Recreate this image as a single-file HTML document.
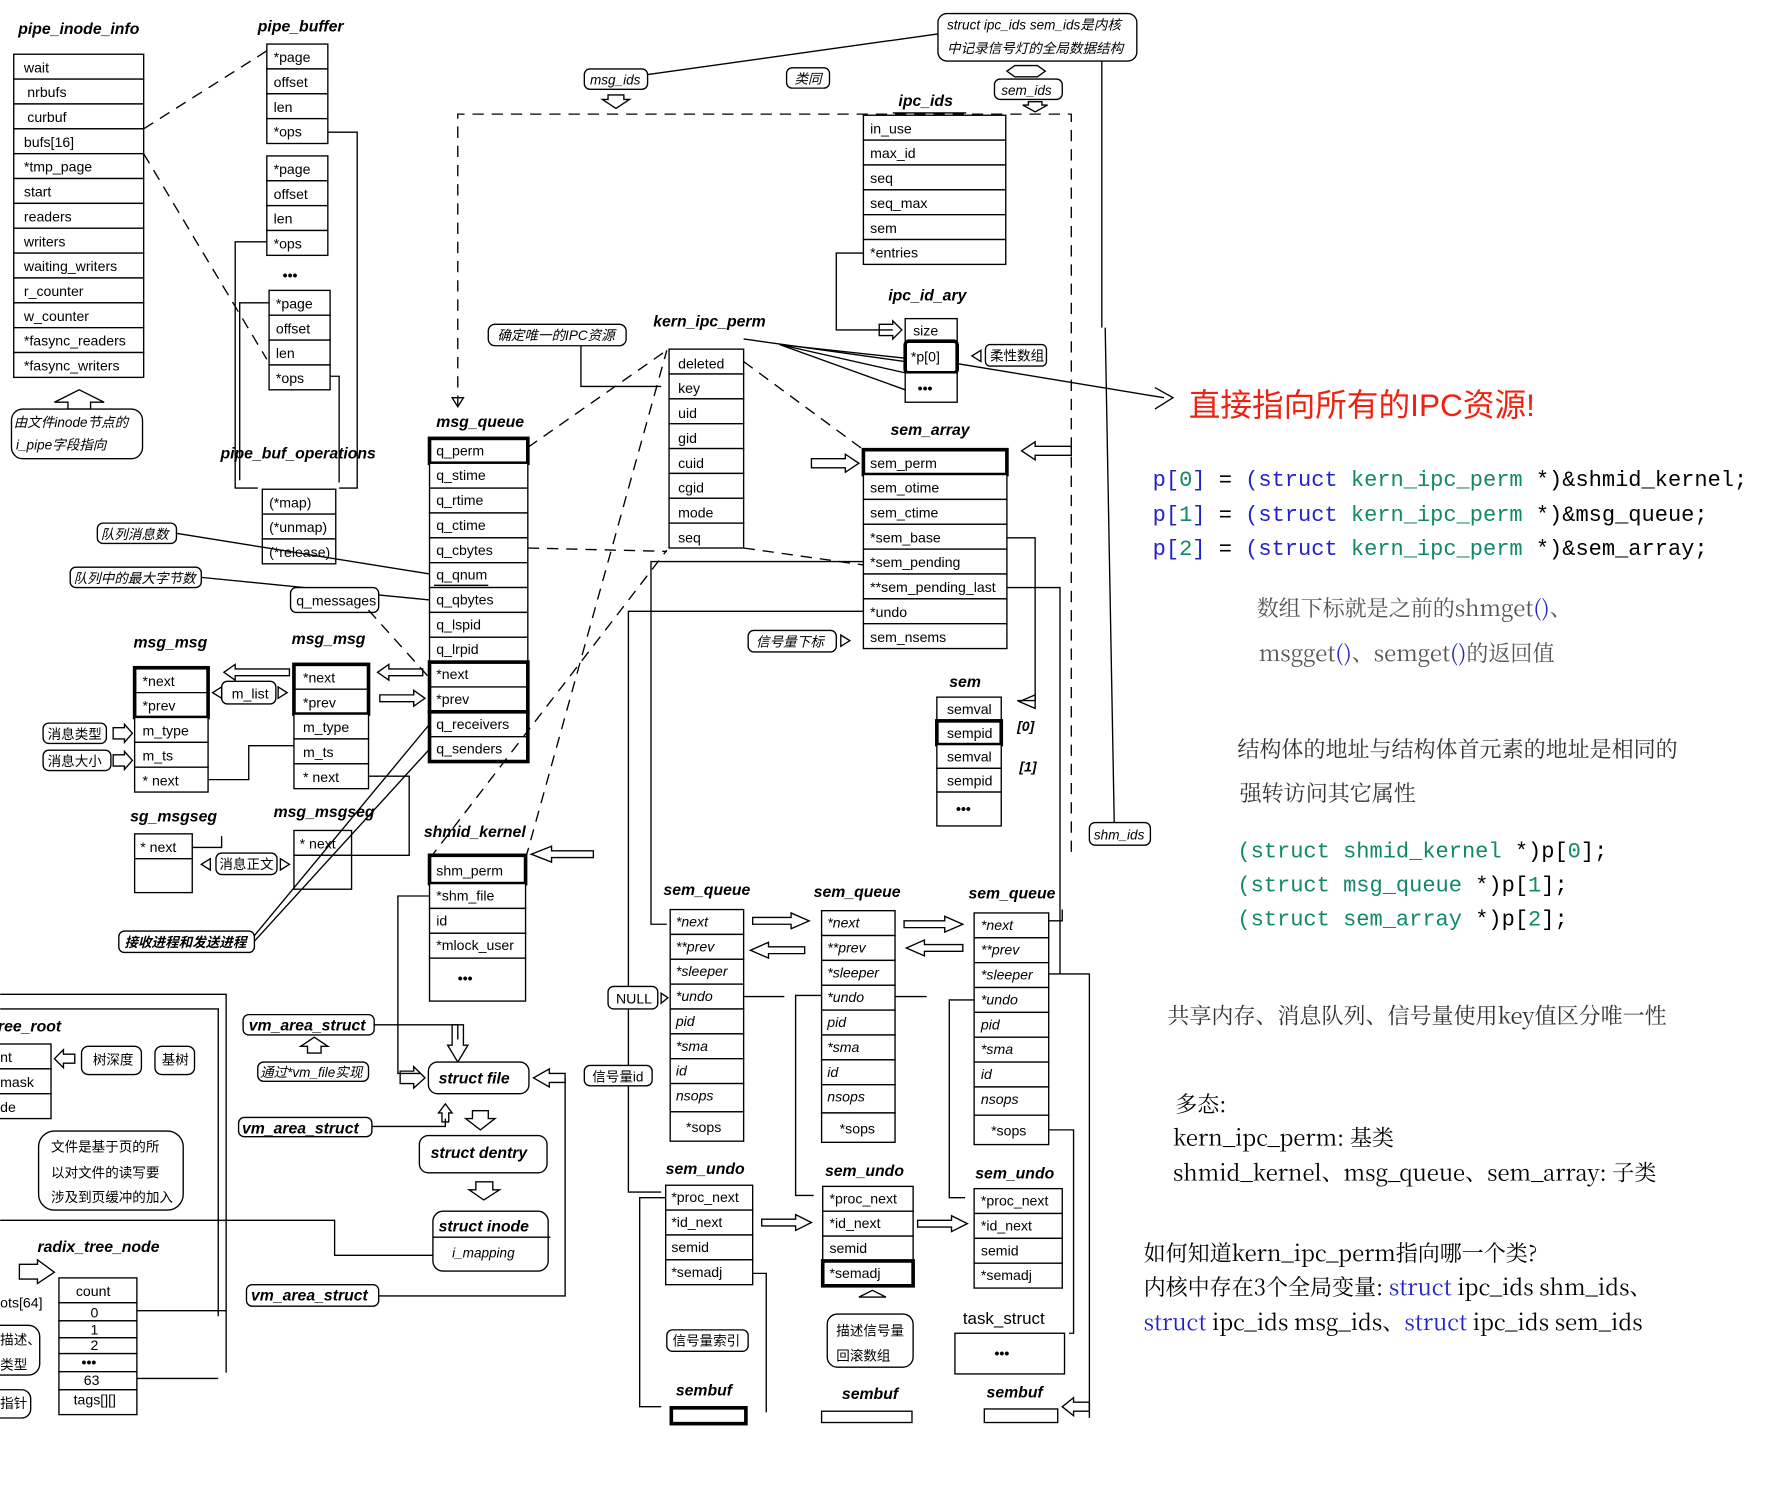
<!DOCTYPE html>
<html><head><meta charset="utf-8"><style>
html,body{margin:0;padding:0;background:#fff;width:1772px;height:1505px;overflow:hidden}
svg{display:block}
text{font-family:"Liberation Sans","Noto Sans CJK SC",sans-serif;font-size:12.5px;fill:#000}
text.s{font-size:12px}
.t{font-weight:bold;font-style:italic;font-size:14px}
.i{font-style:italic}
.c{font-family:"Liberation Mono","Noto Sans CJK SC",monospace;font-size:19.5px}
.z{font-family:"Noto Serif CJK SC","Noto Sans CJK SC",serif;font-size:19.5px}
text.big{font-size:28px;fill:#e21}
text.tk{font-size:15px}
rect{fill:#fff;stroke:#000;stroke-width:1.2}
.k{stroke-width:3.2}
line,path,polyline{stroke:#000;stroke-width:1.2;fill:none}
.d{stroke-dasharray:10,7}
.bl{fill:#2222cc}
.gr{fill:#118866}
</style></head><body>
<svg width="1772" height="1505" viewBox="0 0 1568 1332" xmlns="http://www.w3.org/2000/svg">
<text class="t" x="16" y="30">pipe_inode_info</text>
<g>
<rect x="12" y="48" width="115" height="22"/><text x="21" y="64">wait</text>
<rect x="12" y="70" width="115" height="22"/><text x="24" y="86">nrbufs</text>
<rect x="12" y="92" width="115" height="22"/><text x="24" y="108">curbuf</text>
<rect x="12" y="114" width="115" height="22"/><text x="21" y="130">bufs[16]</text>
<rect x="12" y="136" width="115" height="22"/><text x="21" y="152">*tmp_page</text>
<rect x="12" y="158" width="115" height="22"/><text x="21" y="174">start</text>
<rect x="12" y="180" width="115" height="22"/><text x="21" y="196">readers</text>
<rect x="12" y="202" width="115" height="22"/><text x="21" y="218">writers</text>
<rect x="12" y="224" width="115" height="22"/><text x="21" y="240">waiting_writers</text>
<rect x="12" y="246" width="115" height="22"/><text x="21" y="262">r_counter</text>
<rect x="12" y="268" width="115" height="22"/><text x="21" y="284">w_counter</text>
<rect x="12" y="290" width="115" height="22"/><text x="21" y="306">*fasync_readers</text>
<rect x="12" y="312" width="115" height="22"/><text x="21" y="328">*fasync_writers</text>
</g>
<path d="M70 345 L92 356 L80 356 L80 362 L60 362 L60 356 L48 356 Z"/>
<rect x="10" y="362" width="116" height="44" rx="10"/>
<text class="i s" x="12" y="378">由文件inode节点的</text>
<text class="i s" x="14" y="398">i_pipe字段指向</text>
<text class="t" x="228" y="28">pipe_buffer</text>
<g>
<rect x="236" y="39" width="54" height="22"/><text x="242" y="55">*page</text>
<rect x="236" y="61" width="54" height="22"/><text x="242" y="77">offset</text>
<rect x="236" y="83" width="54" height="22"/><text x="242" y="99">len</text>
<rect x="236" y="105" width="54" height="22"/><text x="242" y="121">*ops</text>
<rect x="236" y="138" width="54" height="22"/><text x="242" y="154">*page</text>
<rect x="236" y="160" width="54" height="22"/><text x="242" y="176">offset</text>
<rect x="236" y="182" width="54" height="22"/><text x="242" y="198">len</text>
<rect x="236" y="204" width="54" height="22"/><text x="242" y="220">*ops</text>
<text x="250" y="248" font-weight="bold">•••</text>
<rect x="238" y="257" width="54" height="22"/><text x="244" y="273">*page</text>
<rect x="238" y="279" width="54" height="22"/><text x="244" y="295">offset</text>
<rect x="238" y="301" width="54" height="22"/><text x="244" y="317">len</text>
<rect x="238" y="323" width="54" height="22"/><text x="244" y="339">*ops</text>
</g>
<line class="d" x1="127" y1="114" x2="236" y2="45"/>
<line class="d" x1="127" y1="136" x2="236" y2="318"/>
<polyline points="290,117 316,117 316,432 300,432"/>
<polyline points="236,214 208,214 208,432 228,432"/>
<polyline points="292,333 300,333 300,427"/>
<polyline points="238,268 212,268 212,425"/>
<text class="t" x="195" y="406">pipe_buf_operations</text>
<rect x="232" y="433" width="65" height="22"/><text x="238" y="449">(*map)</text>
<rect x="232" y="455" width="65" height="22"/><text x="238" y="471">(*unmap)</text>
<rect x="232" y="477" width="65" height="22"/><text x="238" y="493">(*release)</text>
<rect x="86" y="463" width="70" height="18" rx="5"/><text class="i s" x="89" y="477">队列消息数</text>
<rect x="62" y="502" width="116" height="18" rx="5"/><text class="i s" x="65" y="516">队列中的最大字节数</text>
<line x1="156" y1="472" x2="380" y2="508"/>
<line x1="178" y1="511" x2="380" y2="531"/>
<rect x="257" y="520" width="78" height="22" rx="5"/><text x="262" y="536">q_messages</text>
<text class="t" x="386" y="378">msg_queue</text>
<g>
<rect x="380" y="388" width="87" height="22" class="k"/><text x="386" y="403">q_perm</text>
<rect x="380" y="410" width="87" height="22"/><text x="386" y="425">q_stime</text>
<rect x="380" y="432" width="87" height="22"/><text x="386" y="447">q_rtime</text>
<rect x="380" y="454" width="87" height="22"/><text x="386" y="469">q_ctime</text>
<rect x="380" y="476" width="87" height="22"/><text x="386" y="491">q_cbytes</text>
<rect x="380" y="498" width="87" height="22"/><text x="386" y="513">q_qnum</text>
<line x1="384" y1="518" x2="432" y2="518" stroke="#e00" stroke-width="2.5"/>
<rect x="380" y="520" width="87" height="22"/><text x="386" y="535">q_qbytes</text>
<rect x="380" y="542" width="87" height="22"/><text x="386" y="557">q_lspid</text>
<rect x="380" y="564" width="87" height="22"/><text x="386" y="579">q_lrpid</text>
<rect x="380" y="586" width="87" height="44" class="k"/><line x1="380" y1="608" x2="467" y2="608"/><text x="386" y="601">*next</text><text x="386" y="623">*prev</text>
<rect x="380" y="630" width="87" height="44" class="k"/><line x1="380" y1="652" x2="467" y2="652" stroke-width="3"/><text x="386" y="645">q_receivers</text><text x="386" y="667">q_senders</text>
</g>
<polyline class="d" points="405,360 405,101 948,101 948,760"/>
<path d="M400 352 L410 352 L405 360 Z"/>
<text class="t" x="578" y="289">kern_ipc_perm</text>
<g>
<rect x="592" y="309" width="66" height="22"/><text x="600" y="326">deleted</text>
<rect x="592" y="331" width="66" height="22"/><text x="600" y="348">key</text>
<rect x="592" y="353" width="66" height="22"/><text x="600" y="370">uid</text>
<rect x="592" y="375" width="66" height="22"/><text x="600" y="392">gid</text>
<rect x="592" y="397" width="66" height="22"/><text x="600" y="414">cuid</text>
<rect x="592" y="419" width="66" height="22"/><text x="600" y="436">cgid</text>
<rect x="592" y="441" width="66" height="22"/><text x="600" y="458">mode</text>
<rect x="592" y="463" width="66" height="22"/><text x="600" y="480">seq</text>
</g>
<rect x="432" y="287" width="122" height="19" rx="6"/><text class="i s" x="440" y="301">确定唯一的IPC资源</text>
<polyline points="514,306 514,342 585,342"/>
<line class="d" x1="467" y1="396" x2="590" y2="310"/>
<line class="d" x1="467" y1="485" x2="590" y2="488"/>
<line class="d" x1="658" y1="320" x2="764" y2="398"/>
<line class="d" x1="658" y1="485" x2="764" y2="500"/>
<line class="d" x1="465" y1="760" x2="590" y2="310"/>
<line class="d" x1="380" y1="760" x2="590" y2="487"/>
<text class="t" x="795" y="94">ipc_ids</text>
<line x1="790" y1="100" x2="855" y2="100" stroke-width="2"/>
<g>
<rect x="764" y="102" width="126" height="22"/><text x="770" y="118">in_use</text>
<rect x="764" y="124" width="126" height="22"/><text x="770" y="140">max_id</text>
<rect x="764" y="146" width="126" height="22"/><text x="770" y="162">seq</text>
<rect x="764" y="168" width="126" height="22"/><text x="770" y="184">seq_max</text>
<rect x="764" y="190" width="126" height="22"/><text x="770" y="206">sem</text>
<rect x="764" y="212" width="126" height="22"/><text x="770" y="228">*entries</text>
</g>
<polyline points="764,224 740,224 740,292 790,292"/>
<path d="M778 287 L790 287 L790 284 L798 292 L790 300 L790 297 L778 297 Z" fill="#fff"/>
<text class="t" x="786" y="266">ipc_id_ary</text>
<rect x="801" y="282" width="46" height="20"/><text x="808" y="297">size</text>
<rect x="801" y="302" width="46" height="28" class="k" rx="3"/><text x="806" y="320">*p[0]</text>
<rect x="801" y="330" width="46" height="26"/><text x="812" y="348" font-weight="bold">•••</text>
<rect x="872" y="305" width="54" height="19" rx="4"/><text class="s" x="876" y="319">柔性数组</text>
<path d="M868 310 L860 315 L868 320 Z" fill="#fff"/>
<line x1="690" y1="305" x2="801" y2="317"/>
<line x1="690" y1="305" x2="801" y2="330"/>
<line x1="690" y1="305" x2="801" y2="345"/>
<line x1="658" y1="300" x2="801" y2="320"/>
<line x1="848" y1="322" x2="1030" y2="352" stroke-width="2"/>
<path d="M1022 343 L1038 352 L1022 362" stroke-width="2"/>
<text class="big" x="1052" y="368">直接指向所有的IPC资源!</text>
<rect x="830" y="12" width="176" height="42" rx="8"/>
<text class="i s" x="838" y="26">struct ipc_ids sem_ids是内核</text>
<text class="i s" x="838" y="47">中记录信号灯的全局数据结构</text>
<rect x="517" y="61" width="56" height="18" rx="5"/><text class="i s" x="522" y="75">msg_ids</text>
<line x1="573" y1="66" x2="830" y2="30"/>
<rect x="696" y="60" width="38" height="18" rx="5"/><text class="i s" x="703" y="74">类同</text>
<rect x="880" y="70" width="60" height="18" rx="5"/><text class="i s" x="886" y="84">sem_ids</text>
<path d="M898 58 L918 58 L925 63 L918 68 L898 68 L891 63 Z" fill="#fff"/>
<path d="M538 84 L552 84 L552 88 L557 88 L545 96 L533 88 L538 88 Z" fill="#fff"/>
<path d="M910 90 L922 90 L922 93 L927 93 L916 99 L905 93 L910 93 Z" fill="#fff"/>
<line x1="975" y1="54" x2="975" y2="290"/>
<line x1="978" y1="290" x2="986" y2="728"/>
<rect x="964" y="728" width="54" height="20" rx="5"/><text class="i s" x="968" y="743">shm_ids</text>
<text class="t" x="788" y="385">sem_array</text>
<g>
<rect x="764" y="398" width="127" height="22" class="k"/><text x="770" y="414">sem_perm</text>
<rect x="764" y="420" width="127" height="22"/><text x="770" y="436">sem_otime</text>
<rect x="764" y="442" width="127" height="22"/><text x="770" y="458">sem_ctime</text>
<rect x="764" y="464" width="127" height="22"/><text x="770" y="480">*sem_base</text>
<rect x="764" y="486" width="127" height="22"/><text x="770" y="502">*sem_pending</text>
<rect x="764" y="508" width="127" height="22"/><text x="770" y="524">**sem_pending_last</text>
<rect x="764" y="530" width="127" height="22"/><text x="770" y="546">*undo</text>
<rect x="764" y="552" width="127" height="22"/><text x="770" y="568">sem_nsems</text>
</g>
<path d="M718 406 L748 406 L748 402 L760 410 L748 418 L748 414 L718 414 Z" fill="#fff"/>
<path d="M948 395 L916 395 L916 391 L904 399 L916 407 L916 403 L948 403 Z" fill="#fff"/>
<rect x="662" y="558" width="78" height="19" rx="5"/><text class="i s" x="669" y="572">信号量下标</text>
<path d="M744 562 L752 567 L744 572 Z" fill="#fff"/>
<polyline points="891,476 916,476 916,620 900,620"/>
<polyline points="891,520 938,520 938,862"/>
<polyline points="764,497 576,497 576,818 590,818"/>
<polyline points="764,541 556,541 556,1055 585,1055"/>
<text class="t" x="840" y="608">sem</text>
<g>
<rect x="829" y="617" width="57" height="21"/><text x="838" y="632">semval</text>
<rect x="829" y="638" width="57" height="21" class="k"/><text x="838" y="653">sempid</text>
<rect x="829" y="659" width="57" height="21"/><text x="838" y="674">semval</text>
<rect x="829" y="680" width="57" height="21"/><text x="838" y="695">sempid</text>
<rect x="829" y="701" width="57" height="30"/><text x="846" y="720" font-weight="bold">•••</text>
</g>
<text class="i" x="900" y="647" font-weight="bold">[0]</text>
<text class="i" x="902" y="683" font-weight="bold">[1]</text>
<path d="M916 615 L902 621 L916 627 Z" fill="#fff"/>
<text class="t" x="118" y="573">msg_msg</text>
<rect x="119" y="591" width="65" height="44" class="k"/><line x1="119" y1="613" x2="184" y2="613"/><text x="126" y="607">*next</text><text x="126" y="629">*prev</text>
<rect x="119" y="635" width="65" height="22"/><text x="126" y="651">m_type</text>
<rect x="119" y="657" width="65" height="22"/><text x="126" y="673">m_ts</text>
<rect x="119" y="679" width="65" height="22"/><text x="126" y="695">* next</text>
<text class="t" x="258" y="570">msg_msg</text>
<rect x="260" y="588" width="66" height="44" class="k"/><line x1="260" y1="610" x2="326" y2="610"/><text x="268" y="604">*next</text><text x="268" y="626">*prev</text>
<rect x="260" y="632" width="66" height="22"/><text x="268" y="648">m_type</text>
<rect x="260" y="654" width="66" height="22"/><text x="268" y="670">m_ts</text>
<rect x="260" y="676" width="66" height="22"/><text x="268" y="692">* next</text>
<rect x="196" y="603" width="48" height="20" rx="5"/><text x="205" y="618">m_list</text>
<path d="M196 608 L188 613 L196 618 Z" fill="#fff"/><path d="M246 608 L254 613 L246 618 Z" fill="#fff"/>
<path d="M256 592 L208 592 L208 588 L198 595 L208 602 L208 598 L256 598 Z" fill="#fff"/>
<path d="M374 592 L344 592 L344 588 L334 595 L344 602 L344 598 L374 598 Z" fill="#fff"/>
<path d="M336 615 L366 615 L366 611 L376 618 L366 625 L366 621 L336 621 Z" fill="#fff"/>
<rect x="38" y="640" width="56" height="18" rx="5"/><text class="s" x="42" y="654">消息类型</text>
<rect x="38" y="664" width="60" height="18" rx="5"/><text class="s" x="42" y="678">消息大小</text>
<path d="M100 644 L110 644 L110 641 L117 649 L110 657 L110 654 L100 654 Z" fill="#fff"/>
<path d="M100 668 L110 668 L110 665 L117 673 L110 681 L110 678 L100 678 Z" fill="#fff"/>
<polyline points="184,690 220,690 220,660 260,660"/>
<text class="t" x="115" y="727">sg_msgseg</text>
<rect x="119" y="738" width="51" height="22"/><text x="124" y="754">* next</text>
<rect x="119" y="760" width="51" height="30"/>
<text class="t" x="242" y="723">msg_msgseg</text>
<rect x="260" y="735" width="51" height="22"/><text x="265" y="751">* next</text>
<rect x="260" y="757" width="51" height="30"/>
<polyline points="170,750 196,750 196,740"/>
<rect x="191" y="755" width="54" height="19" rx="5"/><text class="s" x="194" y="769">消息正文</text>
<path d="M186 760 L178 765 L186 770 Z" fill="#fff"/><path d="M248 760 L256 765 L248 770 Z" fill="#fff"/>
<polyline points="326,687 362,687 362,757 311,757"/>
<rect x="105" y="824" width="120" height="19" rx="5"/><text class="i s" x="110" y="838" font-weight="bold">接收进程和发送进程</text>
<line x1="225" y1="828" x2="380" y2="641"/>
<line x1="225" y1="833" x2="380" y2="663"/>
<line class="d" x1="326" y1="540" x2="380" y2="600"/>
<text class="t" x="375" y="741">shmid_kernel</text>
<rect x="380" y="757" width="85" height="25" class="k"/><text x="386" y="775">shm_perm</text>
<rect x="380" y="782" width="85" height="22"/><text x="386" y="797">*shm_file</text>
<rect x="380" y="804" width="85" height="22"/><text x="386" y="819">id</text>
<rect x="380" y="826" width="85" height="22"/><text x="386" y="841">*mlock_user</text>
<rect x="380" y="848" width="85" height="38"/><text x="405" y="870" font-weight="bold">•••</text>
<path d="M525 753 L488 753 L488 749 L470 756 L488 763 L488 759 L525 759 Z" fill="#fff"/>
<polyline points="380,793 352,793 352,950 372,950"/>
<polyline points="0,880 200,880 200,1215"/>
<polyline points="0,893 193,893 193,1165"/>
<rect x="-5" y="924" width="50" height="22"/><text x="0" y="940">nt</text>
<rect x="-5" y="946" width="50" height="22"/><text x="0" y="962">mask</text>
<rect x="-5" y="968" width="50" height="22"/><text x="0" y="984">de</text>
<text class="t" x="-2" y="913">ree_root</text>
<path d="M66 933 L56 933 L56 929 L48 937 L56 945 L56 941 L66 941 Z" fill="#fff"/>
<rect x="72" y="926" width="53" height="25" rx="6"/><text class="s" x="82" y="942">树深度</text>
<rect x="137" y="926" width="35" height="25" rx="6"/><text class="s" x="143" y="942">基树</text>
<rect x="34" y="1001" width="128" height="70" rx="14"/>
<text class="s" x="45" y="1019">文件是基于页的所</text>
<text class="s" x="45" y="1042">以对文件的读写要</text>
<text class="s" x="45" y="1064">涉及到页缓冲的加入</text>
<polyline points="0,1080 296,1080 296,1111 383,1111"/>
<text class="t" x="33" y="1108">radix_tree_node</text>
<path d="M17 1119 L33 1119 L33 1115 L48 1126 L33 1136 L33 1132 L17 1132 Z" fill="#fff"/>
<g>
<rect x="52" y="1131" width="69" height="22"/><text x="67" y="1147">count</text>
<rect x="52" y="1153" width="69" height="16"/><text x="80" y="1166">0</text>
<rect x="52" y="1169" width="69" height="15"/><text x="80" y="1181">1</text>
<rect x="52" y="1184" width="69" height="14"/><text x="80" y="1195">2</text>
<rect x="52" y="1198" width="69" height="16"/><text x="72" y="1210" font-weight="bold">•••</text>
<rect x="52" y="1214" width="69" height="16"/><text x="74" y="1226">63</text>
<rect x="52" y="1230" width="69" height="22"/><text x="65" y="1243">tags[][]</text>
</g>
<line x1="121" y1="1160" x2="200" y2="1160"/>
<line x1="121" y1="1220" x2="193" y2="1220"/>
<text x="0" y="1157">ots[64]</text>
<rect x="-15" y="1173" width="50" height="44" rx="10"/><text class="s" x="0" y="1190">描述、</text><text class="s" x="0" y="1212">类型</text>
<rect x="-15" y="1230" width="42" height="25" rx="8"/><text class="s" x="0" y="1246">指针</text>
<rect x="215" y="898" width="116" height="18" rx="5"/><text class="t" x="220" y="912">vm_area_struct</text>
<path d="M272 932 L272 926 L266 926 L278 918 L290 926 L284 926 L284 932 Z" fill="#fff"/>
<rect x="228" y="940" width="98" height="17" rx="5"/><text class="i s" x="230" y="953">通过*vm_file实现</text>
<rect x="211" y="989" width="118" height="17" rx="5"/><text class="t" x="214" y="1003">vm_area_struct</text>
<rect x="218" y="1137" width="117" height="19" rx="5"/><text class="t" x="222" y="1151">vm_area_struct</text>
<polyline points="331,907 405,907 405,920"/>
<path d="M400 907 L410 907 L410 925 L414 925 L405 940 L396 925 L400 925 Z" fill="#fff"/>
<rect x="379" y="940" width="89" height="28" rx="8"/><text class="t" x="388" y="959">struct file</text>
<path d="M354 948 L366 948 L366 944 L376 954 L366 963 L366 959 L354 959 Z" fill="#fff"/>
<path d="M500 950 L486 950 L486 946 L472 954 L486 962 L486 958 L500 958 Z" fill="#fff"/>
<polyline points="500,954 500,1147 335,1147"/>
<polyline points="329,997 394,997 394,990"/>
<path d="M394 977 L400 985 L397 985 L397 993 L391 993 L391 985 L388 985 Z" fill="#fff"/>
<path d="M418 983 L432 983 L432 990 L438 990 L425 1000 L412 990 L418 990 Z" fill="#fff"/>
<rect x="371" y="1005" width="113" height="33" rx="8"/><text class="t" x="381" y="1025">struct dentry</text>
<path d="M421 1046 L436 1046 L436 1053 L442 1053 L428 1062 L415 1053 L421 1053 Z" fill="#fff"/>
<rect x="383" y="1072" width="102" height="53" rx="9"/><line x1="383" y1="1095" x2="487" y2="1095"/>
<text class="t" x="388" y="1090">struct inode</text><text class="i s" x="400" y="1113">i_mapping</text>
<g>
<text class="t" x="587" y="792">sem_queue</text>
<rect x="593" y="805" width="65" height="22"/><text class="i" x="598" y="820">*next</text>
<rect x="593" y="827" width="65" height="22"/><text class="i" x="598" y="842">**prev</text>
<rect x="593" y="849" width="65" height="22"/><text class="i" x="598" y="864">*sleeper</text>
<rect x="593" y="871" width="65" height="22"/><text class="i" x="598" y="886">*undo</text>
<rect x="593" y="893" width="65" height="22"/><text class="i" x="598" y="908">pid</text>
<rect x="593" y="915" width="65" height="22"/><text class="i" x="598" y="930">*sma</text>
<rect x="593" y="937" width="65" height="22"/><text class="i" x="598" y="952">id</text>
<rect x="593" y="959" width="65" height="25"/><text class="i" x="598" y="974">nsops</text>
<rect x="593" y="984" width="65" height="26"/><text x="607" y="1002">*sops</text>
</g>
<g>
<text class="t" x="720" y="794">sem_queue</text>
<rect x="727" y="806" width="65" height="22"/><text class="i" x="732" y="821">*next</text>
<rect x="727" y="828" width="65" height="22"/><text class="i" x="732" y="843">**prev</text>
<rect x="727" y="850" width="65" height="22"/><text class="i" x="732" y="865">*sleeper</text>
<rect x="727" y="872" width="65" height="22"/><text class="i" x="732" y="887">*undo</text>
<rect x="727" y="894" width="65" height="22"/><text class="i" x="732" y="909">pid</text>
<rect x="727" y="916" width="65" height="22"/><text class="i" x="732" y="931">*sma</text>
<rect x="727" y="938" width="65" height="22"/><text class="i" x="732" y="953">id</text>
<rect x="727" y="960" width="65" height="25"/><text class="i" x="732" y="975">nsops</text>
<rect x="727" y="985" width="65" height="26"/><text x="743" y="1003">*sops</text>
</g>
<g>
<text class="t" x="857" y="795">sem_queue</text>
<rect x="862" y="808" width="66" height="22"/><text class="i" x="868" y="823">*next</text>
<rect x="862" y="830" width="66" height="22"/><text class="i" x="868" y="845">**prev</text>
<rect x="862" y="852" width="66" height="22"/><text class="i" x="868" y="867">*sleeper</text>
<rect x="862" y="874" width="66" height="22"/><text class="i" x="868" y="889">*undo</text>
<rect x="862" y="896" width="66" height="22"/><text class="i" x="868" y="911">pid</text>
<rect x="862" y="918" width="66" height="22"/><text class="i" x="868" y="933">*sma</text>
<rect x="862" y="940" width="66" height="22"/><text class="i" x="868" y="955">id</text>
<rect x="862" y="962" width="66" height="25"/><text class="i" x="868" y="977">nsops</text>
<rect x="862" y="987" width="66" height="26"/><text x="877" y="1005">*sops</text>
</g>
<path d="M666 812 L700 812 L700 808 L716 815 L700 822 L700 818 L666 818 Z" fill="#fff"/>
<path d="M712 838 L680 838 L680 834 L664 841 L680 848 L680 844 L712 844 Z" fill="#fff"/>
<path d="M800 815 L836 815 L836 811 L852 818 L836 825 L836 821 L800 821 Z" fill="#fff"/>
<path d="M852 836 L818 836 L818 832 L802 839 L818 846 L818 842 L852 842 Z" fill="#fff"/>
<rect x="538" y="873" width="44" height="20" rx="5"/><text x="545" y="888">NULL</text>
<path d="M585 879 L591 883 L585 888 Z" fill="#fff"/>
<rect x="517" y="943" width="60" height="18" rx="5"/><text class="s" x="524" y="957">信号量id</text>
<polyline points="928,815 940,815 940,805"/>
<polyline points="928,862 964,862 964,1255"/>
<polyline points="928,1000 950,1000 950,1180 946,1180"/>
<g>
<text class="t" x="589" y="1039">sem_undo</text>
<rect x="589" y="1049" width="77" height="22"/><text x="594" y="1064">*proc_next</text>
<rect x="589" y="1071" width="77" height="22"/><text x="594" y="1086">*id_next</text>
<rect x="589" y="1093" width="77" height="22"/><text x="594" y="1108">semid</text>
<rect x="589" y="1115" width="77" height="22"/><text x="594" y="1130">*semadj</text>
</g>
<g>
<text class="t" x="730" y="1041">sem_undo</text>
<rect x="728" y="1050" width="80" height="22"/><text x="734" y="1065">*proc_next</text>
<rect x="728" y="1072" width="80" height="22"/><text x="734" y="1087">*id_next</text>
<rect x="728" y="1094" width="80" height="22"/><text x="734" y="1109">semid</text>
<rect x="728" y="1116" width="80" height="22" class="k"/><text x="734" y="1131">*semadj</text>
</g>
<g>
<text class="t" x="863" y="1043">sem_undo</text>
<rect x="862" y="1052" width="78" height="22"/><text x="868" y="1067">*proc_next</text>
<rect x="862" y="1074" width="78" height="22"/><text x="868" y="1089">*id_next</text>
<rect x="862" y="1096" width="78" height="22"/><text x="868" y="1111">semid</text>
<rect x="862" y="1118" width="78" height="22"/><text x="868" y="1133">*semadj</text>
</g>
<path d="M674 1079 L704 1079 L704 1075 L718 1082 L704 1089 L704 1085 L674 1085 Z" fill="#fff"/>
<path d="M812 1080 L842 1080 L842 1076 L856 1083 L842 1090 L842 1086 L812 1086 Z" fill="#fff"/>
<polyline points="658,882 694,882"/>
<polyline points="792,882 820,882"/>
<polyline points="727,881 704,881 704,1058 720,1058"/>
<polyline points="862,885 840,885 840,1060 854,1060"/>
<path d="M760 1148 L772 1142 L784 1148 Z" fill="#fff"/>
<rect x="732" y="1163" width="76" height="47" rx="9"/><text class="s" x="740" y="1182">描述信号量</text><text class="s" x="740" y="1204">回滚数组</text>
<rect x="590" y="1177" width="72" height="19" rx="5"/><text class="s" x="595" y="1191">信号量索引</text>
<polyline points="666,1127 678,1127 678,1250"/>
<polyline points="589,1060 566,1060 566,1245 585,1245"/>
<text class="tk" x="852" y="1172">task_struct</text>
<rect x="845" y="1180" width="97" height="36"/><text x="880" y="1202" font-weight="bold">•••</text>
<text class="t" x="598" y="1235">sembuf</text>
<text class="t" x="745" y="1238">sembuf</text>
<text class="t" x="873" y="1237">sembuf</text>
<rect x="594" y="1246" width="66" height="14" class="k"/>
<rect x="727" y="1249" width="80" height="10"/>
<rect x="871" y="1247" width="65" height="12"/>
<path d="M964 1241 L950 1241 L950 1237 L940 1245 L950 1253 L950 1249 L964 1249 Z" fill="#fff"/>
<text class="c" x="1020" y="430"><tspan class="bl">p[</tspan><tspan class="gr">0</tspan><tspan class="bl">]</tspan> = <tspan class="bl">(struct</tspan> <tspan class="gr">kern_ipc_perm</tspan> *)&amp;shmid_kernel;</text>
<text class="c" x="1020" y="461"><tspan class="bl">p[</tspan><tspan class="gr">1</tspan><tspan class="bl">]</tspan> = <tspan class="bl">(struct</tspan> <tspan class="gr">kern_ipc_perm</tspan> *)&amp;msg_queue;</text>
<text class="c" x="1020" y="491"><tspan class="bl">p[</tspan><tspan class="gr">2</tspan><tspan class="bl">]</tspan> = <tspan class="bl">(struct</tspan> <tspan class="gr">kern_ipc_perm</tspan> *)&amp;sem_array;</text>
<text class="z" x="1112" y="545" style="fill:#555">数组下标就是之前的shmget<tspan class="bl">()</tspan>、</text>
<text class="z" x="1114" y="585" style="fill:#555">msgget<tspan class="bl">()</tspan>、semget<tspan class="bl">()</tspan>的返回值</text>
<text class="z" x="1095" y="670" style="fill:#333">结构体的地址与结构体首元素的地址是相同的</text>
<text class="z" x="1097" y="709" style="fill:#333">强转访问其它属性</text>
<text class="c" x="1095" y="759"><tspan class="gr">(struct shmid_kernel</tspan> *)p[<tspan class="gr">0</tspan>];</text>
<text class="c" x="1095" y="789"><tspan class="gr">(struct msg_queue</tspan> *)p[<tspan class="gr">1</tspan>];</text>
<text class="c" x="1095" y="819"><tspan class="gr">(struct sem_array</tspan> *)p[<tspan class="gr">2</tspan>];</text>
<text class="z" x="1033" y="906" style="fill:#333">共享内存、消息队列、信号量使用key值区分唯一性</text>
<text class="z" x="1040" y="984">多态:</text>
<text class="z" x="1038" y="1014">kern_ipc_perm: 基类</text>
<text class="z" x="1038" y="1045">shmid_kernel、msg_queue、sem_array: 子类</text>
<text class="z" x="1012" y="1116">如何知道kern_ipc_perm指向哪一个类?</text>
<text class="z" x="1012" y="1146">内核中存在3个全局变量: <tspan class="bl">struct</tspan> ipc_ids shm_ids、</text>
<text class="z" x="1012" y="1177"><tspan class="bl">struct</tspan> ipc_ids msg_ids、<tspan class="bl">struct</tspan> ipc_ids sem_ids</text>
</svg>
</body></html>
